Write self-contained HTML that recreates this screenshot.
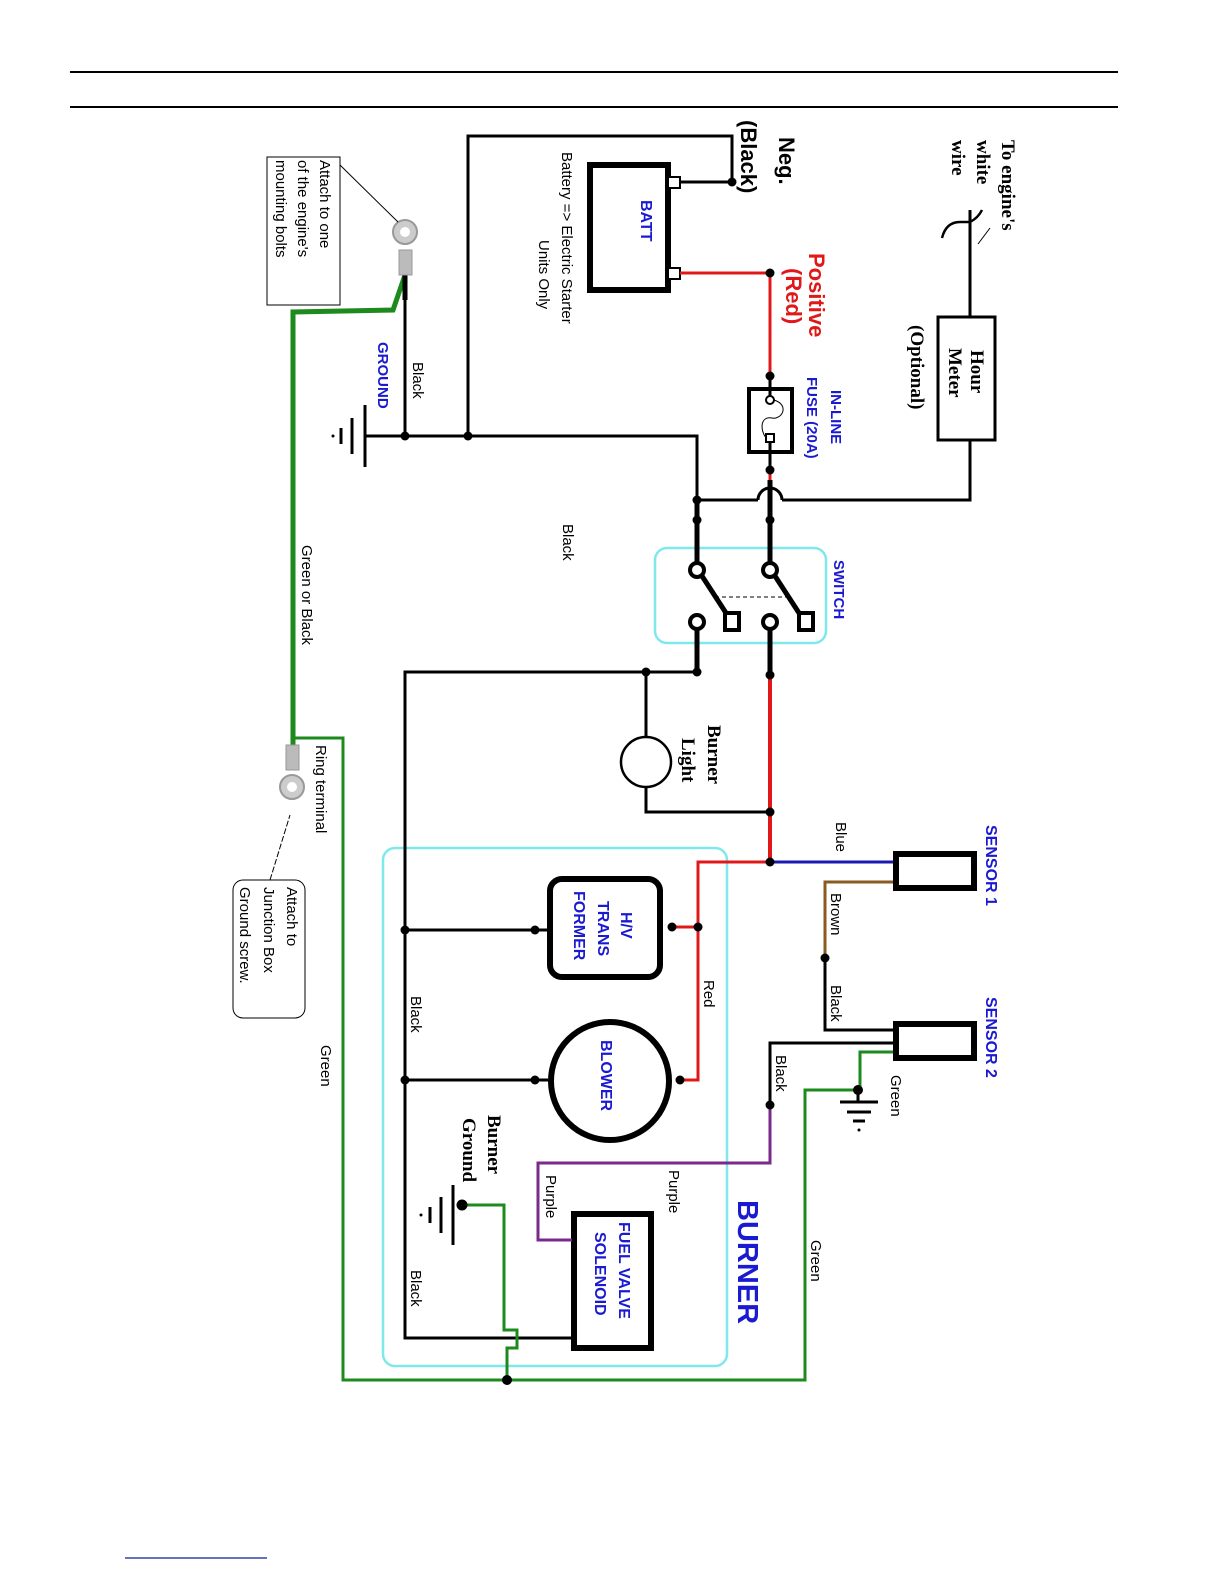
<!DOCTYPE html>
<html><head><meta charset="utf-8"><style>
html,body{margin:0;padding:0;background:#fff}
svg{display:block}
text{font-family:"Liberation Sans",sans-serif}
.s{font-family:"Liberation Serif",serif;font-weight:bold}
.b{fill:#1a1ad0;font-weight:bold}
</style></head><body>
<svg width="1224" height="1584" viewBox="0 0 1224 1584" xmlns="http://www.w3.org/2000/svg">
<line x1="70" y1="72" x2="1118" y2="72" stroke="#000" stroke-width="2"/>
<line x1="70" y1="107" x2="1118" y2="107" stroke="#000" stroke-width="2"/>
<line x1="125" y1="1558" x2="267" y2="1558" stroke="#3344aa" stroke-width="1.5"/>

<!-- cyan boxes -->
<rect x="655" y="548" width="171" height="95" rx="12" fill="none" stroke="#7fe8ec" stroke-width="2.5"/>
<rect x="383" y="848" width="344" height="518" rx="12" fill="none" stroke="#7fe8ec" stroke-width="2.5"/>

<g fill="none" stroke="#000" stroke-width="3">
<!-- neg -->
<polyline points="468,436 468,136 732,136 732,182 680,182"/>
<!-- ground line -->
<polyline points="365,436 697,436 697,565"/>
<line x1="405" y1="436" x2="405" y2="275"/>
<!-- hour meter wires -->
<line x1="970" y1="210" x2="970" y2="317"/>
<polyline points="970,440 970,500 782,500"/>
<line x1="758" y1="500" x2="697" y2="500"/>
<path d="M782,500 A12,12 0 0 0 758,500"/>
<!-- switch down to left -->
<polyline points="697,643 697,672 405,672 405,1338 572,1338"/>
<polyline points="646,672 646,737"/>
<polyline points="646,787 646,812 770,812"/>
<line x1="405" y1="930" x2="548" y2="930"/>
<line x1="405" y1="1080" x2="548" y2="1080"/>
<!-- sensor black -->
<polyline points="825,958 825,1030 893,1030"/>
<polyline points="893,1043 770,1043 770,1105"/>
</g>
<!-- engine wire symbol -->
<path d="M942,238 Q946,222 960,222 L970,222 Q978,218 982,210" fill="none" stroke="#000" stroke-width="2.5"/>
<line x1="978" y1="244" x2="990" y2="228" stroke="#000" stroke-width="1"/>

<!-- batt -->
<rect x="590" y="165" width="78" height="125" fill="#fff" stroke="#000" stroke-width="6"/>
<rect x="668" y="177" width="12" height="11" fill="#fff" stroke="#000" stroke-width="2"/>
<rect x="668" y="268" width="12" height="11" fill="#fff" stroke="#000" stroke-width="2"/>

<!-- red -->
<g fill="none" stroke="#e01818" stroke-width="3">
<polyline points="680,273 770,273 770,388"/>
<line x1="770" y1="452" x2="770" y2="565"/>
<line x1="770" y1="643" x2="770" y2="862" stroke-width="4"/>
<polyline points="770,862 698,862 698,1080 680,1080"/>
<line x1="672" y1="927" x2="698" y2="927"/>
</g>
<!-- fuse -->
<rect x="749" y="389" width="43" height="63" fill="#fff" stroke="#000" stroke-width="4"/>
<circle cx="770" cy="400" r="4" fill="#fff" stroke="#000" stroke-width="2"/>
<rect x="766" y="434" width="8" height="8" fill="#fff" stroke="#000" stroke-width="2"/>
<path d="M774,400 C790,405 782,420 772,418 C760,416 760,430 766,438" fill="none" stroke="#000" stroke-width="1"/>
<line x1="770" y1="376" x2="770" y2="396" stroke="#000" stroke-width="3"/>
<line x1="770" y1="442" x2="770" y2="470" stroke="#000" stroke-width="3"/>

<!-- hour meter -->
<rect x="938" y="317" width="57" height="123" fill="#fff" stroke="#000" stroke-width="3"/>

<!-- switch -->
<g stroke="#000" stroke-width="5" fill="none">
<line x1="697" y1="500" x2="697" y2="562"/>
<line x1="770" y1="480" x2="770" y2="562"/>
<line x1="697" y1="630" x2="697" y2="672"/>
<line x1="770" y1="630" x2="770" y2="675"/>
<line x1="702" y1="576" x2="726" y2="613"/>
<line x1="775" y1="576" x2="799" y2="613"/>
</g>
<g fill="#fff" stroke="#000" stroke-width="4">
<circle cx="697" cy="570" r="7"/><circle cx="770" cy="570" r="7"/>
<circle cx="697" cy="622" r="7"/><circle cx="770" cy="622" r="7"/>
<rect x="725" y="613" width="14" height="17"/><rect x="799" y="613" width="14" height="17"/>
</g>
<line x1="715" y1="597" x2="790" y2="597" stroke="#000" stroke-width="1" stroke-dasharray="4,3"/>

<!-- burner light -->
<circle cx="646" cy="762" r="25" fill="#fff" stroke="#000" stroke-width="2.5"/>

<!-- sensors -->
<rect x="896" y="854" width="78" height="34" fill="#fff" stroke="#000" stroke-width="6"/>
<rect x="896" y="1024" width="78" height="34" fill="#fff" stroke="#000" stroke-width="6"/>
<line x1="770" y1="862" x2="893" y2="862" stroke="#1a1ab0" stroke-width="3"/>
<polyline points="893,882 825,882 825,958" fill="none" stroke="#8a5a20" stroke-width="3"/>

<!-- transformer, blower, solenoid -->
<rect x="550" y="879" width="110" height="98" rx="12" fill="#fff" stroke="#000" stroke-width="6"/>
<circle cx="610" cy="1081" r="59" fill="#fff" stroke="#000" stroke-width="6"/>
<rect x="574" y="1214" width="77" height="134" fill="#fff" stroke="#000" stroke-width="6"/>

<!-- purple -->
<polyline points="770,1105 770,1163 538,1163 538,1240 572,1240" fill="none" stroke="#7a2a8a" stroke-width="3"/>

<!-- green -->
<g fill="none" stroke="#1c8a1c" stroke-width="3">
<polyline points="293,738 343,738 343,1380 805,1380 805,1090 858,1090"/>
<polyline points="893,1052 860,1052 860,1090"/>
<polyline points="465,1205 504,1205 504,1330 517,1330 517,1348 507,1348 507,1380"/>
</g>
<polyline points="405,275 393,310 293,312 293,760" fill="none" stroke="#1c8a1c" stroke-width="5"/>
<line x1="405" y1="275" x2="405" y2="300" stroke="#000" stroke-width="5"/>

<!-- ground symbols -->
<g stroke="#000" stroke-width="3">
<line x1="365" y1="405" x2="365" y2="467"/><line x1="352" y1="418" x2="352" y2="454"/><line x1="341" y1="428" x2="341" y2="444"/>
<line x1="453" y1="1185" x2="453" y2="1245"/><line x1="441" y1="1197" x2="441" y2="1233"/><line x1="430" y1="1207" x2="430" y2="1223"/>
<line x1="845" y1="1090" x2="878" y2="1090" stroke-width="0"/>
<line x1="840" y1="1102" x2="878" y2="1102"/><line x1="847" y1="1112" x2="871" y2="1112"/><line x1="853" y1="1121" x2="865" y2="1121"/>
<line x1="858" y1="1090" x2="858" y2="1102"/>
</g>
<circle cx="333" cy="436" r="1.5"/><circle cx="421" cy="1215" r="1.5"/><circle cx="859" cy="1130" r="1.5"/>

<!-- dots -->
<g fill="#000">
<circle cx="732" cy="182" r="4.5"/><circle cx="770" cy="273" r="4.5"/><circle cx="770" cy="376" r="4.5"/><circle cx="770" cy="470" r="4.5"/>
<circle cx="405" cy="436" r="4.5"/><circle cx="468" cy="436" r="4.5"/><circle cx="697" cy="500" r="4.5"/>
<circle cx="697" cy="520" r="4.5"/><circle cx="770" cy="520" r="4.5"/><circle cx="697" cy="672" r="4.5"/><circle cx="770" cy="675" r="4.5"/>
<circle cx="646" cy="672" r="4.5"/><circle cx="770" cy="812" r="4.5"/><circle cx="770" cy="862" r="4.5"/>
<circle cx="698" cy="927" r="4.5"/><circle cx="672" cy="927" r="4.5"/><circle cx="535" cy="930" r="4.5"/><circle cx="405" cy="930" r="4.5"/>
<circle cx="680" cy="1080" r="4.5"/><circle cx="535" cy="1080" r="4.5"/><circle cx="405" cy="1080" r="4.5"/>
<circle cx="825" cy="958" r="4.5"/><circle cx="770" cy="1105" r="4.5"/><circle cx="858" cy="1090" r="5"/>
<circle cx="462" cy="1205" r="5.5"/><circle cx="507" cy="1380" r="5"/>
</g>

<!-- ring terminals -->
<g>
<rect x="399" y="250" width="13" height="25" fill="#bbb" stroke="#999"/>
<circle cx="405" cy="232" r="12" fill="#ccc" stroke="#999" stroke-width="2"/><circle cx="405" cy="232" r="5" fill="#fff"/>
<rect x="286" y="745" width="13" height="25" fill="#bbb" stroke="#999"/>
<circle cx="292" cy="787" r="12" fill="#ccc" stroke="#999" stroke-width="2"/><circle cx="292" cy="787" r="5" fill="#fff"/>
</g>
<line x1="340" y1="165" x2="398" y2="222" stroke="#000" stroke-width="1"/>
<line x1="270" y1="880" x2="290" y2="815" stroke="#000" stroke-width="1" stroke-dasharray="6,2"/>
<rect x="267" y="157" width="73" height="148" fill="#fff" stroke="#000" stroke-width="1"/>
<rect x="233" y="880" width="72" height="138" rx="10" fill="#fff" stroke="#000" stroke-width="1"/>

<!-- text -->
<g font-size="15">
<text transform="translate(320,160) rotate(90)">Attach to one</text>
<text transform="translate(298,160) rotate(90)">of the engine's</text>
<text transform="translate(276,160) rotate(90)">mounting bolts</text>
<text transform="translate(287,887) rotate(90)">Attach to</text>
<text transform="translate(264,887) rotate(90)">Junction Box</text>
<text transform="translate(240,887) rotate(90)">Ground screw.</text>
<text transform="translate(562,152) rotate(90)">Battery =&gt; Electric Starter</text>
<text transform="translate(539,240) rotate(90)">Units Only</text>
<text transform="translate(413,362) rotate(90)">Black</text>
<text transform="translate(563,524) rotate(90)">Black</text>
<text transform="translate(302,545) rotate(90)">Green  or Black</text>
<text transform="translate(316,745) rotate(90)">Ring terminal</text>
<text transform="translate(321,1045) rotate(90)">Green</text>
<text transform="translate(836,822) rotate(90)">Blue</text>
<text transform="translate(831,893) rotate(90)">Brown</text>
<text transform="translate(831,985) rotate(90)">Black</text>
<text transform="translate(891,1075) rotate(90)">Green</text>
<text transform="translate(776,1055) rotate(90)">Black</text>
<text transform="translate(669,1170) rotate(90)">Purple</text>
<text transform="translate(546,1175) rotate(90)">Purple</text>
<text transform="translate(811,1240) rotate(90)">Green</text>
<text transform="translate(704,980) rotate(90)">Red</text>
<text transform="translate(411,996) rotate(90)">Black</text>
<text transform="translate(411,1270) rotate(90)">Black</text>
</g>
<g font-size="22" font-weight="bold">
<text transform="translate(779,137) rotate(90)">Neg.</text>
<text transform="translate(741,120) rotate(90)">(Black)</text>
<text transform="translate(809,253) rotate(90)" fill="#e01818">Positive</text>
<text transform="translate(786,268) rotate(90)" fill="#e01818">(Red)</text>
</g>
<g font-size="15" class="b">
<text class="b" transform="translate(641,200) rotate(90)" font-size="16">BATT</text>
<text class="b" transform="translate(831,390) rotate(90)">IN-LINE</text>
<text class="b" transform="translate(807,377) rotate(90)">FUSE (20A)</text>
<text class="b" transform="translate(834,560) rotate(90)">SWITCH</text>
<text class="b" transform="translate(378,342) rotate(90)">GROUND</text>
<text class="b" transform="translate(986,825) rotate(90)" font-size="16">SENSOR 1</text>
<text class="b" transform="translate(986,997) rotate(90)" font-size="16">SENSOR 2</text>
<text class="b" transform="translate(621,912) rotate(90)" font-size="16">H/V</text>
<text class="b" transform="translate(598,901) rotate(90)" font-size="16">TRANS</text>
<text class="b" transform="translate(574,891) rotate(90)" font-size="16">FORMER</text>
<text class="b" transform="translate(601,1040) rotate(90)" font-size="16">BLOWER</text>
<text class="b" transform="translate(619,1222) rotate(90)" font-size="16">FUEL VALVE</text>
<text class="b" transform="translate(595,1232) rotate(90)" font-size="16">SOLENOID</text>
<text class="b" transform="translate(738,1200) rotate(90)" font-size="29">BURNER</text>
</g>
<g font-size="19" class="s">
<text class="s" transform="translate(971,350) rotate(90)">Hour</text>
<text class="s" transform="translate(949,348) rotate(90)">Meter</text>
<text class="s" transform="translate(911,325) rotate(90)">(Optional)</text>
<text class="s" transform="translate(1002,140) rotate(90)">To engine's</text>
<text class="s" transform="translate(977,140) rotate(90)">white</text>
<text class="s" transform="translate(952,140) rotate(90)">wire</text>
<text class="s" transform="translate(708,725) rotate(90)">Burner</text>
<text class="s" transform="translate(682,738) rotate(90)">Light</text>
<text class="s" transform="translate(488,1115) rotate(90)">Burner</text>
<text class="s" transform="translate(463,1118) rotate(90)">Ground</text>
</g>
</svg>
</body></html>
